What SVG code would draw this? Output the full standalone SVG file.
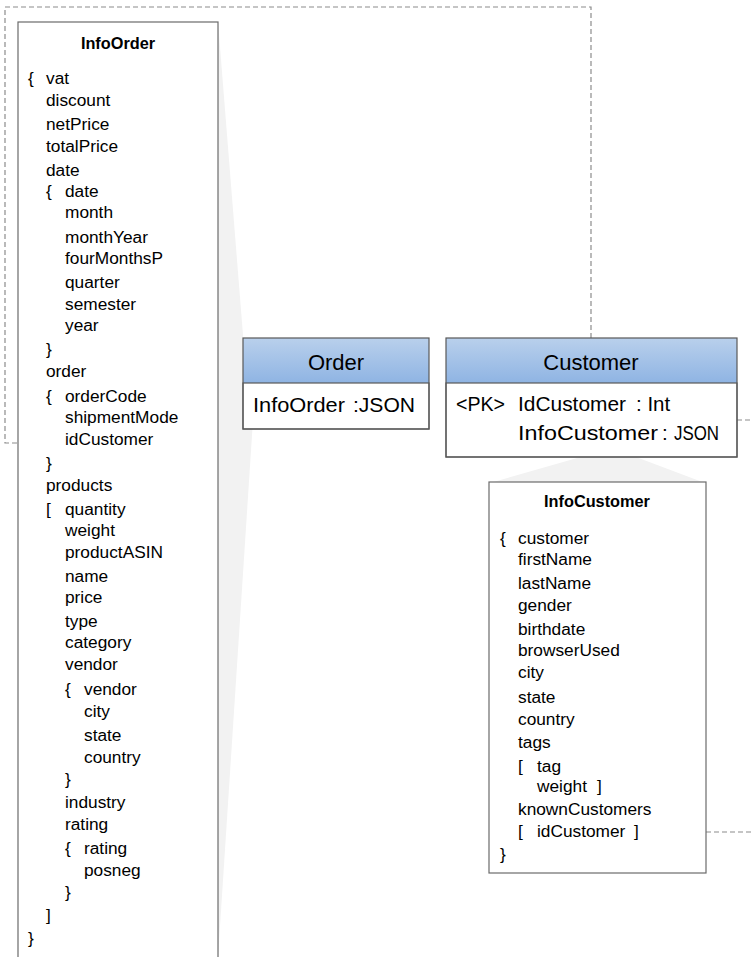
<svg xmlns="http://www.w3.org/2000/svg" width="752" height="957" viewBox="0 0 752 957">
<defs>
<linearGradient id="hdr" x1="0" y1="0" x2="0" y2="1">
<stop offset="0" stop-color="#b9d0ec"/>
<stop offset="1" stop-color="#8fb4e3"/>
</linearGradient>
<style>
text{font-family:"Liberation Sans",Arial,sans-serif;fill:#000}
.t{font-size:17.3px}
.b{font-size:16.3px;font-weight:bold}
.h{font-size:22px}
.r{font-size:20.5px}
.box{fill:#fff;stroke:#6b6b6b;stroke-width:1.2}
.ent{fill:#fff;stroke:#595959;stroke-width:1.2}
.dash{fill:none;stroke:#8c8c8c;stroke-width:1.2;stroke-dasharray:5,3}
.call{fill:#f2f2f2;stroke:none}
</style>
</defs>
<g id="callouts">
<polygon class="call" points="218,22 245,360 253,420 218,957"/>
<polygon class="call" points="612,448 490,483 705,483"/>
</g>
<g id="connectors">
<polyline class="dash" points="591,338 591,7 5,7 5,443 56,443"/>
<line class="dash" x1="737" y1="420" x2="752" y2="420"/>
<line class="dash" x1="650" y1="832" x2="752" y2="832"/>
</g>
<g id="InfoOrder">
<rect class="box" x="18" y="22" width="200" height="945"/>
<text class="b" x="118" y="49" text-anchor="middle">InfoOrder</text>
<g class="t">
<text x="28" y="84">{</text><text x="46" y="84">vat</text>
<text x="46" y="106">discount</text>
<text x="46" y="130">netPrice</text>
<text x="46" y="152">totalPrice</text>
<text x="46" y="176">date</text>
<text x="46" y="197">{</text><text x="65" y="197">date</text>
<text x="65" y="218">month</text>
<text x="65" y="243">monthYear</text>
<text x="65" y="264">fourMonthsP</text>
<text x="65" y="288">quarter</text>
<text x="65" y="310">semester</text>
<text x="65" y="331">year</text>
<text x="46" y="355">}</text>
<text x="46" y="377">order</text>
<text x="46" y="402">{</text><text x="65" y="402">orderCode</text>
<text x="65" y="423">shipmentMode</text>
<text x="65" y="445">idCustomer</text>
<text x="46" y="469">}</text>
<text x="46" y="491">products</text>
<text x="46" y="515">[</text><text x="65" y="515">quantity</text>
<text x="65" y="536">weight</text>
<text x="65" y="558">productASIN</text>
<text x="65" y="582">name</text>
<text x="65" y="603">price</text>
<text x="65" y="627">type</text>
<text x="65" y="648">category</text>
<text x="65" y="670">vendor</text>
<text x="65" y="695">{</text><text x="84" y="695">vendor</text>
<text x="84" y="717">city</text>
<text x="84" y="741">state</text>
<text x="84" y="763">country</text>
<text x="65" y="785">}</text>
<text x="65" y="808">industry</text>
<text x="65" y="830">rating</text>
<text x="65" y="854">{</text><text x="84" y="854">rating</text>
<text x="84" y="876">posneg</text>
<text x="65" y="898">}</text>
<text x="46" y="921">]</text>
<text x="28" y="944">}</text>
</g>
</g>
<g id="Order">
<rect x="243" y="338" width="186" height="45" fill="url(#hdr)"/>
<rect class="ent" x="243" y="383" width="186" height="46"/>
<rect x="243" y="338" width="186" height="91" fill="none" stroke="#595959" stroke-width="1.2"/>
<text class="h" x="336" y="370" text-anchor="middle">Order</text>
<text class="r" x="253" y="412" textLength="92" lengthAdjust="spacingAndGlyphs">InfoOrder</text>
<text class="r" x="353" y="412" textLength="62" lengthAdjust="spacingAndGlyphs">:JSON</text>
</g>
<g id="Customer">
<rect x="446" y="338" width="291" height="45" fill="url(#hdr)"/>
<rect class="ent" x="446" y="383" width="291" height="74"/>
<rect x="446" y="338" width="291" height="119" fill="none" stroke="#595959" stroke-width="1.2"/>
<text class="h" x="591" y="370" text-anchor="middle">Customer</text>
<text class="r" x="456" y="411" textLength="49" lengthAdjust="spacingAndGlyphs">&lt;PK&gt;</text>
<text class="r" x="518" y="411" textLength="108" lengthAdjust="spacingAndGlyphs">IdCustomer</text>
<text class="r" x="636" y="411">: Int</text>
<text class="r" x="518" y="440" textLength="140" lengthAdjust="spacingAndGlyphs">InfoCustomer</text>
<text class="r" x="662" y="440">:</text>
<text class="r" x="674" y="440" textLength="45" lengthAdjust="spacingAndGlyphs">JSON</text>
</g>
<g id="InfoCustomer">
<rect class="box" x="489" y="482" width="217" height="391"/>
<text class="b" x="597" y="507" text-anchor="middle">InfoCustomer</text>
<g class="t">
<text x="500" y="544">{</text><text x="518" y="544">customer</text>
<text x="518" y="565">firstName</text>
<text x="518" y="589">lastName</text>
<text x="518" y="611">gender</text>
<text x="518" y="635">birthdate</text>
<text x="518" y="656">browserUsed</text>
<text x="518" y="678">city</text>
<text x="518" y="703">state</text>
<text x="518" y="725">country</text>
<text x="518" y="748">tags</text>
<text x="518" y="772">[</text><text x="537" y="772">tag</text>
<text x="537" y="792">weight</text><text x="597" y="792">]</text>
<text x="518" y="815">knownCustomers</text>
<text x="518" y="837">[</text><text x="537" y="837">idCustomer</text><text x="634" y="837">]</text>
<text x="500" y="860">}</text>
</g>
</g>
</svg>
